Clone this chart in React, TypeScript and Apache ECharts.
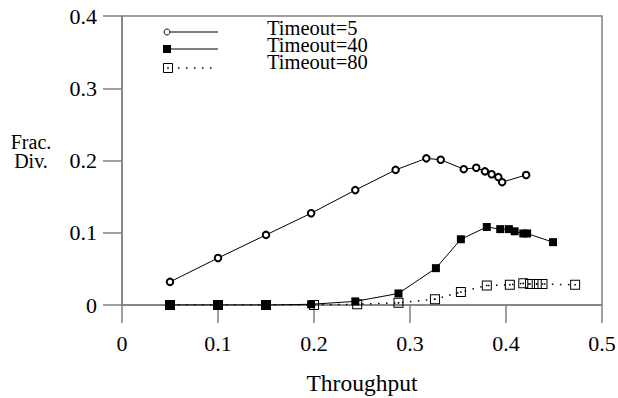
import React, { useEffect, useRef } from "react";
import * as echarts from "echarts";

const seriesNames = ["Timeout=5", "Timeout=40", "Timeout=80"];
const yAxisTitleLines = ["Frac.", "Div."];
const xAxisTitle = "Throughput";

const thr5 = [0.05, 0.1, 0.15, 0.197, 0.243, 0.285, 0.317, 0.332, 0.356, 0.369, 0.378, 0.385, 0.392, 0.396, 0.421];
const frac5 = [0.032, 0.065, 0.097, 0.127, 0.159, 0.187, 0.203, 0.201, 0.188, 0.19, 0.185, 0.181, 0.177, 0.17, 0.18];

const thr40 = [0.05, 0.1, 0.15, 0.197, 0.243, 0.288, 0.327, 0.353, 0.38, 0.394, 0.403, 0.409, 0.418, 0.422, 0.449];
const frac40 = [0, 0, 0, 0.001, 0.005, 0.016, 0.051, 0.091, 0.108, 0.105, 0.105, 0.102, 0.099, 0.099, 0.087];

const thr80 = [0.05, 0.1, 0.15, 0.2, 0.245, 0.288, 0.326, 0.353, 0.38, 0.404, 0.418, 0.425, 0.432, 0.438, 0.472];
const frac80 = [0, 0, 0, 0, 0.001, 0.003, 0.008, 0.018, 0.027, 0.028, 0.03, 0.029, 0.029, 0.029, 0.028];

const xTicks = { min: 0, max: 0.5, interval: 0.1 };
const yTicks = { min: 0, max: 0.4, interval: 0.1 };

const FONT = "Liberation Serif";
const AXIS_GRAY = "#808080";

const pairs = (xs: number[], ys: number[]) => xs.map((x, i) => [x, ys[i]]);

const dotSquare = "path://M0,0H10V10H0Z M1,1V9H9V1Z M4.2,4.2H5.8V5.8H4.2Z";

export default function App() {
  const ref = useRef<HTMLDivElement>(null);
  useEffect(() => {
    document.body.style.margin = "0";
    if (!ref.current) return;
    const chart = echarts.init(ref.current, undefined, { renderer: "svg" });

    const legendRows = [{ ty: 28 }, { ty: 44.5 }, { ty: 61.5 }];
    const graphic: any[] = [];
    legendRows.forEach((r, i) => {
      graphic.push({
        type: "text",
        x: 267,
        y: r.ty,
        style: {
          text: seriesNames[i],
          fontFamily: FONT,
          fontSize: 20.5,
          lineHeight: 15,
          fill: "#000",
          verticalAlign: "middle",
        },
      });
    });
    // y-axis title (two lines)
    [141.5, 161].forEach((ty, i) => {
      graphic.push({
        type: "text",
        x: 31,
        y: ty,
        style: {
          text: yAxisTitleLines[i],
          fontFamily: FONT,
          fontSize: 20,
          lineHeight: 18,
          fill: "#000",
          align: "center",
          verticalAlign: "middle",
        },
      });
    });
    // row 1: circle + solid line
    graphic.push({ type: "line", shape: { x1: 170, y1: 32, x2: 218, y2: 32 }, style: { stroke: "#000", lineWidth: 1 } });
    graphic.push({ type: "circle", shape: { cx: 167, cy: 32, r: 3 }, style: { fill: "#fff", stroke: "#000", lineWidth: 1 } });
    // row 2: filled square + solid line
    graphic.push({ type: "line", shape: { x1: 170, y1: 49, x2: 218, y2: 49 }, style: { stroke: "#000", lineWidth: 1 } });
    graphic.push({ type: "rect", shape: { x: 163, y: 45, width: 8, height: 8 }, style: { fill: "#000" } });
    // row 3: dotted square + dotted line
    graphic.push({ type: "line", shape: { x1: 178, y1: 68, x2: 218, y2: 68 }, style: { stroke: "#000", lineWidth: 1.5, lineDash: [1.5, 6.5] } });
    graphic.push({ type: "rect", shape: { x: 163.5, y: 63.5, width: 9, height: 9 }, style: { fill: "none", stroke: "#000", lineWidth: 1 } });
    graphic.push({ type: "rect", shape: { x: 167.2, y: 67.2, width: 1.6, height: 1.6 }, style: { fill: "#000" } });

    chart.setOption({
      animation: false,
      backgroundColor: "#fff",
      textStyle: { fontFamily: FONT },
      grid: {
        left: 122,
        right: 16,
        top: 16,
        bottom: 93,
        containLabel: false,
        outerBoundsMode: "none",
        show: true,
        borderColor: AXIS_GRAY,
        borderWidth: 1.5,
      },
      xAxis: {
        type: "value",
        min: xTicks.min,
        max: xTicks.max,
        interval: xTicks.interval,
        name: xAxisTitle,
        nameLocation: "middle",
        nameGap: 66,
        nameTextStyle: { fontFamily: FONT, fontSize: 23.5, color: "#000" },
        axisLine: { show: true, onZero: false, lineStyle: { color: AXIS_GRAY, width: 1.5 } },
        axisTick: { show: true, inside: false, length: 18, lineStyle: { color: AXIS_GRAY, width: 1.5 } },
        axisLabel: { fontFamily: FONT, fontSize: 22, color: "#000", margin: 27 },
        splitLine: { show: false },
      },
      yAxis: {
        type: "value",
        min: yTicks.min,
        max: yTicks.max,
        interval: yTicks.interval,
        axisLine: { show: true, onZero: false, lineStyle: { color: AXIS_GRAY, width: 1.5 } },
        axisTick: { show: true, inside: false, length: 19, lineStyle: { color: AXIS_GRAY, width: 1.5 } },
        axisLabel: { fontFamily: FONT, fontSize: 22, color: "#000", margin: 25 },
        splitLine: { show: false },
      },
      graphic,
      series: [
        {
          name: seriesNames[2],
          type: "line",
          data: pairs(thr80, frac80),
          symbol: dotSquare,
          symbolSize: 10,
          z: 2,
          lineStyle: { color: "#000", width: 1.5, type: [1.5, 6.5] },
          itemStyle: { color: "#000", borderWidth: 0 },
        },
        {
          name: seriesNames[1],
          type: "line",
          data: pairs(thr40, frac40),
          symbol: "rect",
          symbolSize: 8,
          z: 3,
          lineStyle: { color: "#000", width: 1 },
          itemStyle: { color: "#000", borderWidth: 0 },
        },
        {
          name: seriesNames[0],
          type: "line",
          data: pairs(thr5, frac5),
          symbol: "emptyCircle",
          symbolSize: 6.5,
          z: 4,
          lineStyle: { color: "#000", width: 1 },
          itemStyle: { color: "#000", borderColor: "#000", borderWidth: 1 },
        },
      ],
    });
    return () => chart.dispose();
  }, []);
  return <div ref={ref} style={{ position: "absolute", left: 0, top: 0, width: 618, height: 398 }} />;
}
